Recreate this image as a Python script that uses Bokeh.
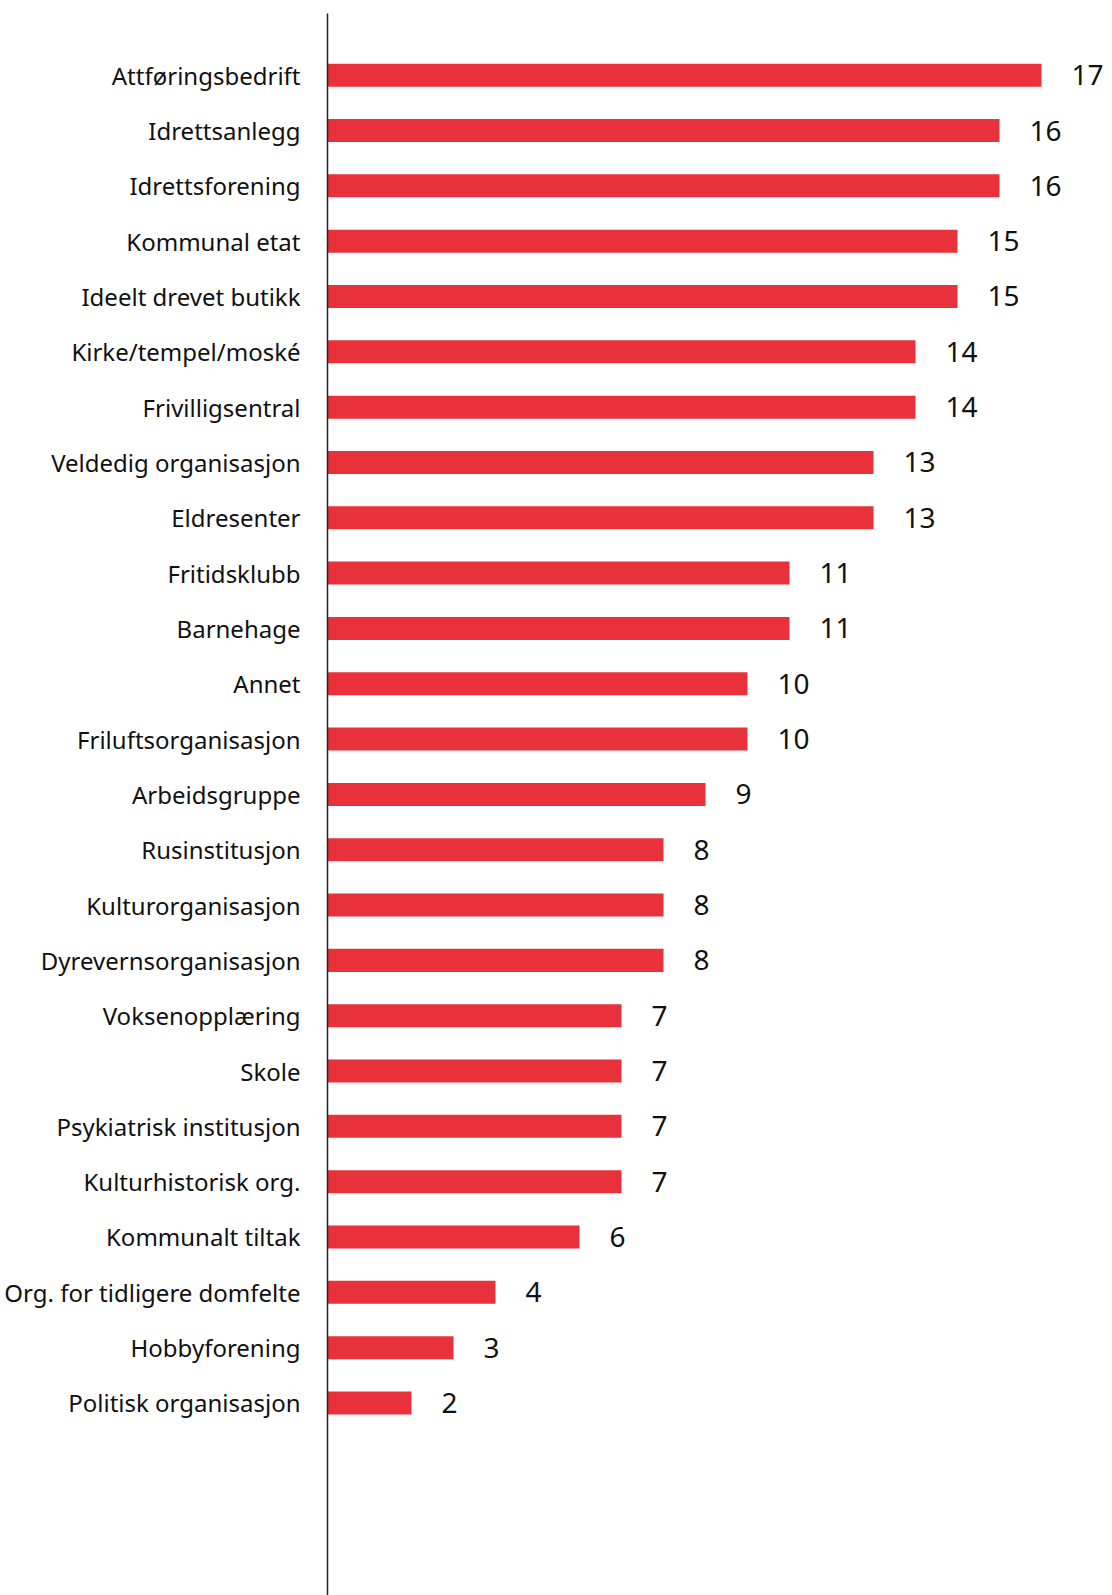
from bokeh.plotting import figure
from bokeh.models import Range1d, FixedTicker, ColumnDataSource
from bokeh.core.properties import value
from bokeh.embed import file_html
from bokeh.resources import INLINE

categories = ["Attføringsbedrift", "Idrettsanlegg", "Idrettsforening", "Kommunal etat",
              "Ideelt drevet butikk", "Kirke/tempel/moské", "Frivilligsentral",
              "Veldedig organisasjon", "Eldresenter", "Fritidsklubb", "Barnehage", "Annet",
              "Friluftsorganisasjon", "Arbeidsgruppe", "Rusinstitusjon", "Kulturorganisasjon",
              "Dyrevernsorganisasjon", "Voksenopplæring", "Skole", "Psykiatrisk institusjon",
              "Kulturhistorisk org.", "Kommunalt tiltak", "Org. for tidligere domfelte",
              "Hobbyforening", "Politisk organisasjon"]
values = [17, 16, 16, 15, 15, 14, 14, 13, 13, 11, 11, 10, 10, 9, 8, 8, 8, 7, 7, 7, 7, 6, 4, 3, 2]

positions = list(range(len(categories)))
src = ColumnDataSource(dict(y=positions, v=values, lab=[str(v) for v in values]))

p = figure(width=1112, height=1595, output_backend="svg", toolbar_location=None,
           x_range=Range1d(0, 18.69), y_range=Range1d(27.48, -1.115),
           min_border_left=327, min_border_right=0, min_border_top=13, min_border_bottom=0)
p.outline_line_color = None
p.grid.visible = False
p.xaxis.visible = False
p.background_fill_color = "white"
p.border_fill_color = "white"

p.hbar(y="y", left=0, right="v", height=0.416, source=src,
       fill_color="#E8313A", line_color=None)

p.text(x="v", y="y", text="lab", source=src, x_offset=30,
       text_align="left", text_baseline="middle",
       text_font=value("Noto Sans"), text_font_size="28px", text_color="#111111")

ax = p.yaxis[0]
ax.ticker = FixedTicker(ticks=positions)
ax.major_label_overrides = {i: c for i, c in zip(positions, categories)}
ax.major_tick_in = 0
ax.major_tick_out = 0
ax.minor_tick_in = 0
ax.minor_tick_out = 0
ax.major_label_standoff = 27
ax.major_label_text_font = "Noto Sans"
ax.major_label_text_font_size = "24px"
ax.major_label_text_color = "#111111"
ax.axis_line_color = "#222222"
ax.axis_line_width = 1.5

open("out.html", "w").write(file_html(p, INLINE))
